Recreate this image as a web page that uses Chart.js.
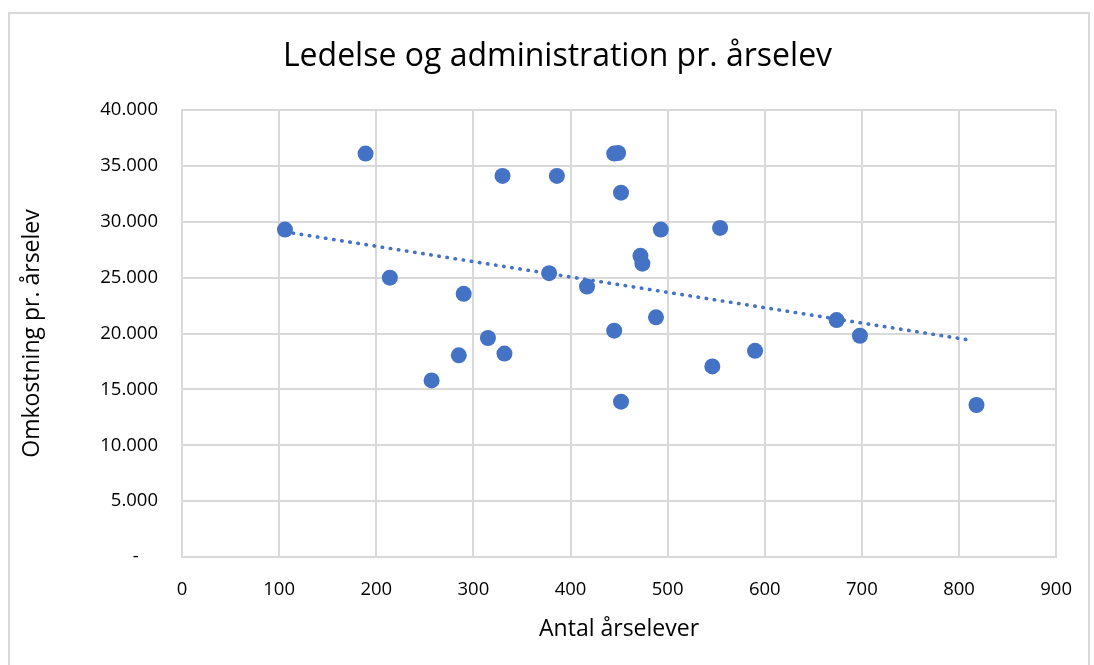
<!DOCTYPE html>
<html>
<head>
	<meta charset="utf-8" />
	<title>Ledelse og administration pr. årselev</title>
	<script src="https://cdn.jsdelivr.net/npm/chart.js@4.4.1/dist/chart.umd.min.js"></script>
	<style>
		body { margin: 0; background: #fff; }
		#frame { position: absolute; left: 8px; top: 12px; width: 1082px; height: 700px; border: 2px solid #d9d9d9; box-sizing: border-box; }
		#wrap { position: absolute; left: 0; top: 0; width: 1094px; height: 665px; }
	</style>
</head>
<body>
<div id="frame"></div>
<div id="wrap"><canvas id="scatterChart" width="1094" height="665"></canvas></div>
<script>
// values
var elever = [106, 189, 214, 257, 285, 290, 315, 332, 330, 386, 378, 417, 445, 449, 452, 445, 452, 472, 474, 488, 493, 554, 546, 590, 674, 698, 818]
var omkostning = [29300, 36100, 25000, 15800, 18050, 23550, 19600, 18200, 34100, 34100, 25400, 24200, 36100, 36150, 32600, 20250, 13900, 26950, 26250, 21450, 29300, 29450, 17050, 18450, 21200, 19800, 13600]
// trendline end points (Excel linear trendline) as seen in the picture
var trendX = [106, 812]
var trendY = [29100, 19400]

var points = []
for (var i = 0; i < elever.length; i++) {
	points.push({x: elever[i], y: omkostning[i]})
}
var trend = [{x: trendX[0], y: trendY[0]}, {x: trendX[1], y: trendY[1]}]

function dotted(v) {
	if (v === 0) return '-    '
	return String(v).replace(/\B(?=(\d{3})+(?!\d))/g, '.')
}

var blue = '#4472C4'
var grid = '#d9d9d9'
var fam = '"Open Sans", "Noto Sans", sans-serif'

new Chart('scatterChart', {
	type: 'scatter',
	data: {
		datasets: [{
			data: points,
			pointRadius: 8,
			pointHoverRadius: 8,
			backgroundColor: blue,
			borderWidth: 0
		}, {
			data: trend,
			showLine: true,
			pointRadius: 0,
			borderColor: blue,
			borderWidth: 3.6,
			borderDash: [0.5, 7.7],
			borderCapStyle: 'round'
		}]
	},
	options: {
		responsive: false,
		animation: false,
		devicePixelRatio: 1,
		// wider left padding so the chart title centres over the plot like Excel does
		layout: {padding: {left: 56, right: 35, top: 0, bottom: 18}},
		plugins: {
			legend: {display: false},
			tooltip: {enabled: false},
			title: {
				display: true,
				text: 'Ledelse og administration pr. årselev',
				color: '#000',
				font: {family: fam, size: 32, weight: 'normal'},
				padding: {top: 38, bottom: 33.6}
			}
		},
		scales: {
			x: {
				type: 'linear',
				min: 0, max: 900,
				ticks: {stepSize: 100, color: '#000', font: {family: fam, size: 18.5}, padding: 22},
				grid: {color: grid, lineWidth: 2, drawTicks: false},
				border: {color: grid, width: 2},
				title: {display: true, text: 'Antal årselever', color: '#000', font: {family: fam, size: 23}, padding: {top: 8}},
				afterFit: function (s) { s.height = 90 }
			},
			y: {
				min: 0, max: 40000,
				ticks: {stepSize: 5000, color: '#000', font: {family: fam, size: 18.5}, padding: 24, callback: dotted},
				grid: {color: grid, lineWidth: 2, drawTicks: false},
				border: {color: grid, width: 2},
				title: {display: true, text: 'Omkostning pr. årselev', color: '#000', font: {family: fam, size: 23}, padding: {top: -37, bottom: 0}},
				afterFit: function (s) { s.width = 126 }
			}
		}
	}
})
</script>
</body>
</html>
